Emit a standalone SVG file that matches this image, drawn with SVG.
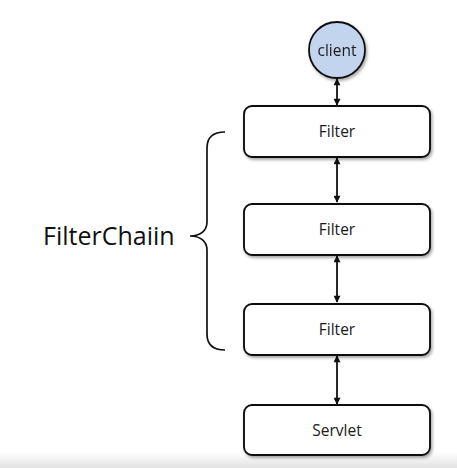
<svg xmlns="http://www.w3.org/2000/svg" width="457" height="468" viewBox="0 0 457 468">
  <style>
    .box { fill: #ffffff; stroke: #111111; stroke-width: 1.9; }
    .lbl { font-family: "Open Sans", "Liberation Sans", sans-serif; font-size: 15.5px; fill: #1a1a1a; text-anchor: middle; }
    .link { stroke: #111111; stroke-width: 1.8; fill: none; marker-start: url(#head); marker-end: url(#head); }
  </style>
  <defs>
    <marker id="head" viewBox="0 0 10 10" refX="9" refY="5" markerWidth="8" markerHeight="7" orient="auto-start-reverse" markerUnits="userSpaceOnUse">
      <path d="M0,0 L10,5 L0,10 z" fill="#111111"/>
    </marker>
    <filter id="shadow" x="-20%" y="-20%" width="140%" height="150%">
      <feDropShadow dx="1.5" dy="2" stdDeviation="1.5" flood-color="#000000" flood-opacity="0.35"/>
    </filter>
    <linearGradient id="floor" x1="0" y1="0" x2="0" y2="1">
      <stop offset="0" stop-color="#ffffff"/>
      <stop offset="1" stop-color="#e2e2e2"/>
    </linearGradient>
  </defs>

  <rect width="457" height="468" fill="#ffffff"/>
  <rect x="0" y="452" width="457" height="16" fill="url(#floor)"/>

  <!-- connectors -->
  <g id="connectors">
    <line class="link" x1="337" y1="79" x2="337" y2="105"/>
    <line class="link" x1="337" y1="158" x2="337" y2="202"/>
    <line class="link" x1="337" y1="256" x2="337" y2="302"/>
    <line class="link" x1="337" y1="356" x2="337" y2="404"/>
  </g>

  <g id="client" filter="url(#shadow)">
    <circle cx="337" cy="50" r="28" fill="#c3d4ee" stroke="#111111" stroke-width="1.8"/>
    <text class="lbl" x="337" y="56" font-size="18">client</text>
  </g>

  <g id="filter1">
    <rect class="box" x="244" y="106" width="186" height="51" rx="8" filter="url(#shadow)"/>
    <text class="lbl" x="337" y="137">Filter</text>
  </g>
  <g id="filter2">
    <rect class="box" x="244" y="204" width="186" height="51" rx="8" filter="url(#shadow)"/>
    <text class="lbl" x="337" y="235">Filter</text>
  </g>
  <g id="filter3">
    <rect class="box" x="244" y="304" width="186" height="51" rx="8" filter="url(#shadow)"/>
    <text class="lbl" x="337" y="335">Filter</text>
  </g>
  <g id="servlet">
    <rect class="box" x="244" y="405" width="186" height="50" rx="8" filter="url(#shadow)"/>
    <text class="lbl" x="337" y="436">Servlet</text>
  </g>

  <!-- brace grouping the filters -->
  <g id="filterchain">
    <path d="M225,132 C213,132 207,137 207,148 L207,222 C207,231 200,236 190,236 C200,236 207,241 207,250 L207,334 C207,345 213,350 225,350" fill="none" stroke="#111111" stroke-width="1.7"/>
    <text x="43" y="245" font-family="Open Sans, Liberation Sans, sans-serif" font-size="25" fill="#111111">FilterChaiin</text>
  </g>
</svg>
